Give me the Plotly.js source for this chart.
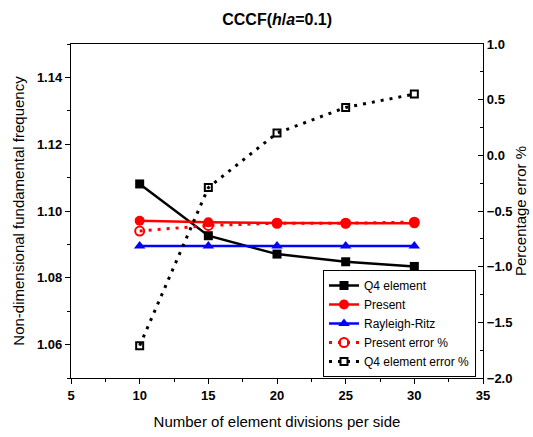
<!DOCTYPE html>
<html>
<head>
<meta charset="utf-8">
<script src="https://cdn.plot.ly/plotly-3.0.1.min.js"></script>
<style>html,body{margin:0;padding:0;background:#fff;}#chart{width:533px;height:437px;}</style>
</head>
<body>
<div id="chart"></div>
<script>
const divisions = [10, 15, 20, 25, 30];
const q4Element = [1.1081, 1.0926, 1.0871, 1.0848, 1.0834];
const present = [1.0971, 1.0966, 1.0964, 1.0963, 1.0963];
const rayleighRitz = [1.0895, 1.0895, 1.0895, 1.0895, 1.0895];
const presentError = [-0.68, -0.63, -0.61, -0.61, -0.60];
const q4Error = [-1.71, -0.29, 0.20, 0.43, 0.55];

const FONT = 'Arial, "Liberation Sans", sans-serif';
const dotted = '3px,6px';

const traces = [
  {x: divisions, y: q4Element, name: 'Q4 element', mode: 'lines+markers', yaxis: 'y',
   line: {color: '#000000', width: 2.5}, marker: {symbol: 'square', size: 9, color: '#000000'}},
  {x: divisions, y: present, name: 'Present', mode: 'lines+markers', yaxis: 'y',
   line: {color: '#ff0000', width: 2.5}, marker: {symbol: 'circle', size: 10, color: '#ff0000'}},
  {x: divisions, y: rayleighRitz, name: 'Rayleigh-Ritz', mode: 'lines+markers', yaxis: 'y',
   line: {color: '#0000ff', width: 2.5}, marker: {symbol: 'triangle-up', size: 10, color: '#0000ff'}},
  {x: divisions, y: presentError, name: 'Present error %', mode: 'lines+markers', yaxis: 'y2',
   line: {color: '#ff0000', width: 3, dash: dotted},
   marker: {symbol: 'circle-open', size: 9, color: '#ff0000', line: {width: 2, color: '#ff0000'}}},
  {x: divisions, y: q4Error, name: 'Q4 element error %', mode: 'lines+markers', yaxis: 'y2',
   line: {color: '#000000', width: 3, dash: dotted},
   marker: {symbol: 'square-open', size: 7, color: '#000000', line: {width: 2, color: '#000000'}}}
];

const layout = {
  width: 533, height: 437,
  margin: {l: 71, r: 50, t: 44, b: 59},
  paper_bgcolor: '#ffffff', plot_bgcolor: '#ffffff',
  font: {family: FONT, color: '#000000', size: 13},
  showlegend: true,
  title: {text: '<b>CCCF(<i>h</i>/<i>a</i>=0.1)</b>', font: {family: FONT, size: 16, color: '#000'},
          x: 0.52, xanchor: 'center', y: 0.955, yanchor: 'middle', yref: 'container'},
  xaxis: {
    range: [5, 35], dtick: 5, tick0: 5, showgrid: false, zeroline: false,
    showline: true, linecolor: '#000', linewidth: 1.2, mirror: true,
    ticks: 'outside', ticklen: 5, tickcolor: '#000', tickwidth: 1,
    minor: {dtick: 2.5, ticks: 'outside', ticklen: 3, tickcolor: '#000'},
    tickfont: {family: FONT, size: 13, weight: 'bold'},
    title: {text: 'Number of element divisions per side', font: {family: FONT, size: 15}, standoff: 14}
  },
  yaxis: {
    range: [1.05, 1.15], dtick: 0.02, tick0: 1.06, tickformat: '.2f', showgrid: false, zeroline: false,
    showline: true, linecolor: '#000', linewidth: 1.2,
    ticks: 'outside', ticklen: 5, tickcolor: '#000',
    minor: {dtick: 0.01, ticks: 'outside', ticklen: 3, tickcolor: '#000'},
    tickfont: {family: FONT, size: 13, weight: 'bold'},
    title: {text: 'Non-dimensional fundamental frequency', font: {family: FONT, size: 15}, standoff: 8}
  },
  yaxis2: {
    overlaying: 'y', side: 'right', anchor: 'x',
    range: [-2, 1], dtick: 0.5, tick0: 0, tickformat: '.1f', showgrid: false, zeroline: false,
    showline: true, linecolor: '#000', linewidth: 1.2,
    ticks: 'inside', ticklen: 5, tickcolor: '#000',
    minor: {dtick: 0.25, ticks: 'inside', ticklen: 3, tickcolor: '#000'},
    tickfont: {family: FONT, size: 13, weight: 'bold'},
    title: {text: 'Percentage error %', font: {family: FONT, size: 15}, standoff: 4}
  },
  legend: {
    x: 0.983, y: 0.003, xanchor: 'right', yanchor: 'bottom',
    bgcolor: '#ffffff', bordercolor: '#000', borderwidth: 1,
    font: {family: FONT, size: 12, color: '#000'},
    tracegroupgap: 0, itemwidth: 30
  }
};

Plotly.newPlot('chart', traces, layout, {displayModeBar: false, staticPlot: true});
</script>
</body>
</html>
